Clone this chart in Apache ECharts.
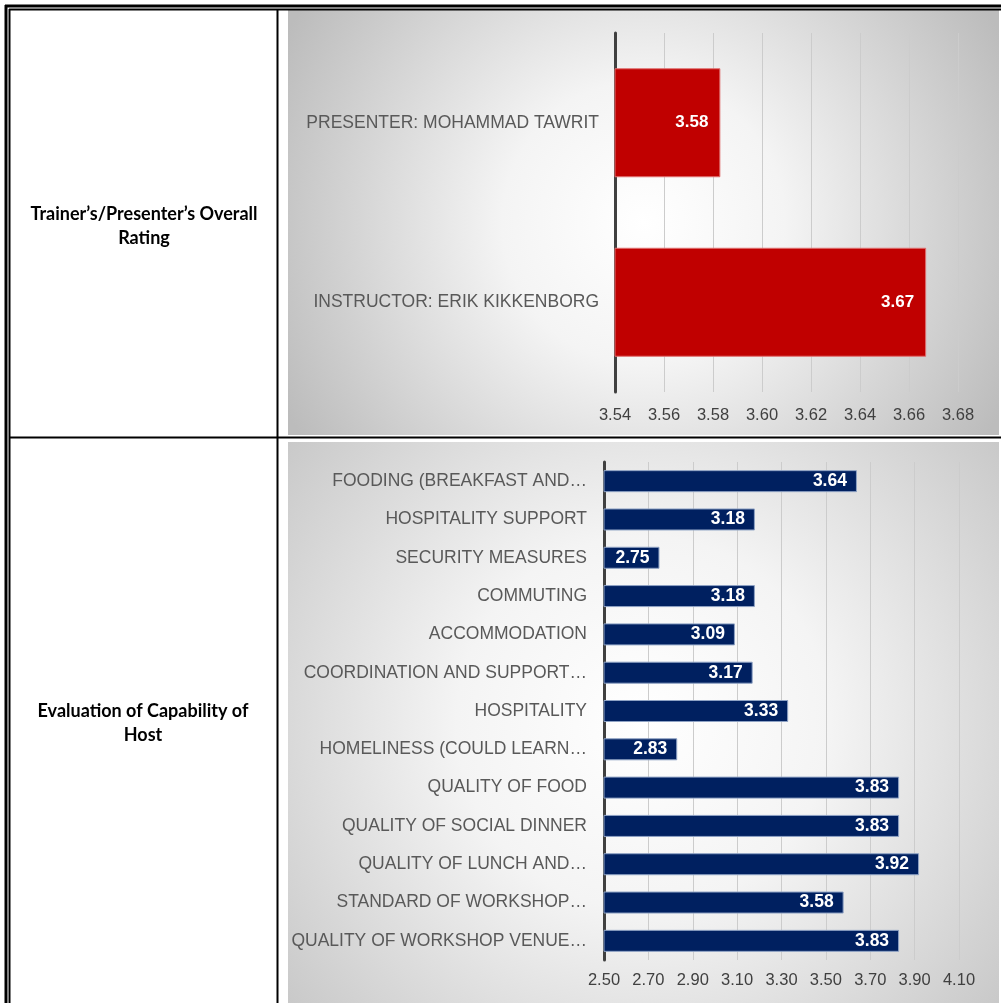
<!DOCTYPE html>
<html>
<head>
<meta charset="utf-8">
<script src="https://cdn.jsdelivr.net/npm/echarts@6/dist/echarts.min.js"></script>
<style>
html,body{margin:0;padding:0;background:#fff;}
#c{width:1001px;height:1003px;}
</style>
</head>
<body>
<div id="c"></div>
<script>
// ---- data ----
var trainerCategories = ['PRESENTER: MOHAMMAD TAWRIT', 'INSTRUCTOR: ERIK KIKKENBORG'];
var trainerValues = [3.583, 3.667];
var trainerTicks = [3.54, 3.56, 3.58, 3.60, 3.62, 3.64, 3.66, 3.68];

var hostCategories = [
  'FOODING (BREAKFAST AND…',
  'HOSPITALITY SUPPORT',
  'SECURITY MEASURES',
  'COMMUTING',
  'ACCOMMODATION',
  'COORDINATION AND SUPPORT…',
  'HOSPITALITY',
  'HOMELINESS (COULD LEARN…',
  'QUALITY OF FOOD',
  'QUALITY OF SOCIAL DINNER',
  'QUALITY OF LUNCH AND…',
  'STANDARD OF WORKSHOP…',
  'QUALITY OF WORKSHOP VENUE…'
];
var hostValues = [3.64, 3.18, 2.75, 3.18, 3.09, 3.17, 3.33, 2.83, 3.83, 3.83, 3.92, 3.58, 3.83];
var hostTicks = [2.50, 2.70, 2.90, 3.10, 3.30, 3.50, 3.70, 3.90, 4.10];

var rowTitles = ['Trainer’s/Presenter’s Overall\nRating', 'Evaluation of Capability of\nHost'];

// ---- chart ----
var chart = echarts.init(document.getElementById('c'));
var FONT = '"Liberation Sans", Arial, sans-serif';

function bg(x, y, w, h) {
  return {
    type: 'rect', z: -10, silent: true,
    shape: {x: x, y: y, width: w, height: h},
    style: {
      fill: new echarts.graphic.RadialGradient(0.5, 0.5, 0.95, [
        {offset: 0, color: '#ffffff'},
        {offset: 0.35, color: '#f4f4f4'},
        {offset: 1, color: '#bcbcbc'}
      ])
    }
  };
}
function line(x1, y1, x2, y2, w) {
  return {type: 'line', z: 100, silent: true, shape: {x1: x1, y1: y1, x2: x2, y2: y2},
    style: {stroke: '#000', lineWidth: w}};
}

var xAxisCommon = {
  type: 'value',
  axisLine: {show: false},
  axisTick: {show: false},
  splitLine: {show: true, lineStyle: {color: '#cccccc', width: 1}},
  axisLabel: {color: '#404040', fontSize: 16.5, fontFamily: FONT,
    formatter: function (v) { return v.toFixed(2); }}
};
var yAxisCommon = {
  type: 'category', inverse: true,
  axisLine: {show: true, lineStyle: {color: '#404040', width: 3}},
  axisTick: {show: false},
  splitLine: {show: false},
  axisLabel: {color: '#595959', fontSize: 17.5, fontFamily: FONT}
};

chart.setOption({
  animation: false,
  graphic: [
    bg(288, 10, 711, 425),
    bg(288, 442, 711, 561),
    // outer double border
    line(5, 6, 1001, 6, 3),
    line(6, 5, 6, 1003, 3),
    line(9, 9.5, 1001, 9.5, 2),
    line(9.5, 9, 9.5, 1003, 2),
    // column divider
    line(277.5, 9, 277.5, 1003, 2),
    // row divider
    line(9, 437.5, 1001, 437.5, 2),
    {type: 'text', z: 100, style: {x: 144, y: 226, text: rowTitles[0], align: 'center', verticalAlign: 'middle',
      font: 'bold 18px Lato, "Open Sans", sans-serif', fill: '#000', lineHeight: 24}},
    {type: 'text', z: 100, style: {x: 143, y: 723, text: rowTitles[1], align: 'center', verticalAlign: 'middle',
      font: 'bold 18px Lato, "Open Sans", sans-serif', fill: '#000', lineHeight: 24}}
  ],
  grid: [
    {left: 615, right: 43, top: 33, height: 359, containLabel: false},
    {left: 604, right: 42, top: 462, height: 498, containLabel: false}
  ],
  xAxis: [
    Object.assign({}, xAxisCommon, {gridIndex: 0, min: trainerTicks[0], max: trainerTicks[trainerTicks.length - 1], interval: 0.02,
      axisLabel: Object.assign({}, xAxisCommon.axisLabel, {margin: 15})}),
    Object.assign({}, xAxisCommon, {gridIndex: 1, min: hostTicks[0], max: hostTicks[hostTicks.length - 1], interval: 0.2,
      axisLabel: Object.assign({}, xAxisCommon.axisLabel, {margin: 12})})
  ],
  yAxis: [
    Object.assign({}, yAxisCommon, {gridIndex: 0, data: trainerCategories,
      axisLabel: Object.assign({}, yAxisCommon.axisLabel, {margin: 16})}),
    Object.assign({}, yAxisCommon, {gridIndex: 1, data: hostCategories,
      axisLabel: Object.assign({}, yAxisCommon.axisLabel, {margin: 17})})
  ],
  series: [
    {
      type: 'bar', xAxisIndex: 0, yAxisIndex: 0, data: trainerValues,
      barWidth: 109,
      itemStyle: {color: '#c00000', borderColor: '#e07070', borderWidth: 1},
      label: {show: true, position: 'insideRight', distance: 12, color: '#fff', fontWeight: 'bold',
        fontSize: 17, fontFamily: FONT, formatter: function (p) { return p.value.toFixed(2); }}
    },
    {
      type: 'bar', xAxisIndex: 1, yAxisIndex: 1, data: hostValues,
      barWidth: 22,
      itemStyle: {color: '#002060', borderColor: '#8ea2c4', borderWidth: 1},
      label: {show: true, position: 'insideRight', distance: 10, color: '#fff', fontWeight: 'bold',
        fontSize: 17.5, fontFamily: FONT, formatter: function (p) { return p.value.toFixed(2); }}
    }
  ]
});
</script>
</body>
</html>
